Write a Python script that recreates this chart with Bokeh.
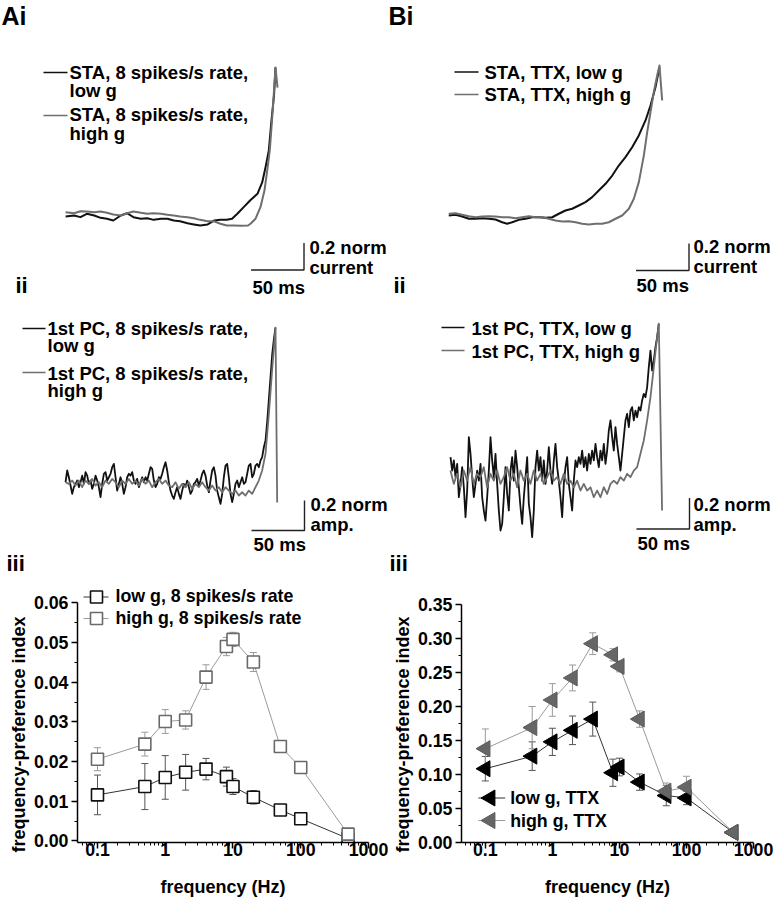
import numpy as np
from bokeh.plotting import figure
from bokeh.models import (Range1d, ColumnDataSource, Whisker, TeeHead, Title,
                          FixedTicker, CustomJSTickFormatter, NumeralTickFormatter)
from bokeh.layouts import column, row
from bokeh.core.properties import value
from bokeh.embed import file_html
from bokeh.resources import INLINE

FONT = "Liberation Sans"
BLACK = "#111111"
GRAY = "#6e6e6e"
TXT = 18.5      # trace-panel text size (px)
PTXT = 17.8     # frequency-panel text size (px)
BASE_FIX = 0.3  # em: lift of alphabetic baseline for text glyphs

# ---------------- data: STA traces (time in ms, normalised current) ----------------
AI_LOW_T = [-198, -190, -184, -178, -171, -165, -159, -153, -146, -140, -134, -127, -121, -115,
            -108, -102, -96, -90, -83, -77, -71, -64, -58, -52, -46, -41, -36, -30, -24, -17,
            -12.5, -9.4, -6.3, -3.8, -1.4, 0]
AI_LOW_V = [0.015, 0.022, 0.010, 0.035, 0.022, 0.005, -0.002, -0.015, 0.022, 0.039, 0.010, -0.002,
            0.002, -0.010, -0.002, -0.002, -0.015, -0.020, -0.035, -0.044, -0.052, -0.044, -0.015,
            -0.010, -0.010, -0.002, 0.035, 0.084, 0.133, 0.183, 0.269, 0.380, 0.504, 0.726, 0.911, 1.119]
AI_HIGH_T = [-198, -190, -184, -178, -171, -165, -159, -153, -146, -140, -134, -127, -121, -115,
             -108, -102, -96, -90, -83, -77, -71, -64, -58, -52, -46, -39, -33, -26, -23.6, -18.9,
             -14.2, -10.4, -7.8, -5.4, -3.3, -1.4, 0, 1.9]
AI_HIGH_V = [0.047, 0.039, 0.054, 0.052, 0.047, 0.052, 0.042, 0.030, 0.022, 0.039, 0.052, 0.042,
             0.035, 0.039, 0.035, 0.027, 0.022, 0.015, 0.010, 0.002, -0.010, -0.020, -0.020, -0.039,
             -0.052, -0.052, -0.054, -0.052, -0.039, -0.002, 0.084, 0.207, 0.356, 0.504, 0.726,
             0.948, 1.119, 0.970]
BI_LOW_T = [-198.8, -192.5, -186.1, -179.9, -173.6, -167.3, -161.0, -154.7, -148.4, -143.7, -139.0,
            -132.7, -126.4, -120.1, -113.9, -107.5, -101.2, -95.0, -88.7, -82.4, -76.1, -69.8,
            -63.5, -57.3, -50.9, -44.6, -38.4, -32.1, -25.8, -19.5, -13.2, -8.5, -3.8, 0]
BI_LOW_V = [0, 0.005, -0.007, -0.024, -0.024, -0.020, -0.024, -0.030, -0.050, -0.061, -0.050,
            -0.032, -0.024, -0.013, -0.013, -0.017, -0.013, 0.013, 0.037, 0.050, 0.074, 0.099,
            0.136, 0.185, 0.235, 0.296, 0.370, 0.432, 0.506, 0.593, 0.704, 0.815, 0.950, 1.099]
BI_HIGH_T = [-198.8, -192.5, -186.1, -179.9, -173.6, -167.3, -161.0, -154.7, -148.4, -142.1, -135.8,
             -129.6, -123.3, -117.0, -110.7, -104.4, -98.1, -91.8, -85.6, -79.2, -72.9, -66.7,
             -60.4, -54.1, -47.8, -41.5, -35.2, -28.9, -24.2, -19.5, -14.8, -11.6, -8.5, -5.4,
             -2.2, 0, 2.5]
BI_HIGH_V = [0.013, 0.017, 0.005, -0.005, -0.013, -0.007, -0.005, -0.007, -0.013, -0.013, -0.020,
             -0.013, -0.005, -0.013, -0.013, -0.024, -0.037, -0.044, -0.042, -0.050, -0.061, -0.067,
             -0.061, -0.061, -0.050, -0.024, 0, 0.050, 0.124, 0.247, 0.444, 0.617, 0.765, 0.913,
             1.037, 1.111, 0.852]

# ---------------- data: 1st PC traces (uniform sampling, last sample time) ----------------
AII_LOW_V = [0, 0.078, 0.033, -0.022, -0.078, -0.033, -0.011, 0.011, -0.033, 0,
             0.044, -0.011, 0.067, 0.044, -0.011, 0.011, -0.044, -0.011, 0.044, 0.011,
             -0.033, -0.1, -0.011, 0.056, 0.067, 0.011, 0.033, 0.056, 0.1, 0.122,
             0.033, -0.056, -0.011, 0.033, -0.011, -0.078, -0.033, 0.033, 0.056, 0.044,
             0.067, 0.011, -0.011, 0.022, -0.033, 0, 0.033, 0, 0.033, 0.011,
             0.056, 0.1, 0.089, 0.011, -0.033, -0.011, 0.033, 0.022, 0.056, 0.1,
             0.133, 0.078, 0, -0.056, -0.089, -0.111, -0.067, -0.033, -0.078, -0.111,
             -0.056, -0.011, -0.033, 0.011, -0.033, -0.078, -0.056, -0.011, 0, 0.022,
             -0.022, 0.011, 0.056, 0.078, 0.044, -0.022, -0.067, 0.011, 0.078, 0.1,
             0.044, -0.056, -0.1, -0.144, -0.078, 0.033, 0.111, 0.122, 0.033, -0.078,
             -0.133, -0.078, -0.011, 0.011, -0.033, 0, 0.033, -0.011, 0, 0.056,
             0.111, 0.122, 0.033, 0.056, 0.111, 0.122, 0.1, 0.144, 0.167, 0.233,
             0.278, 0.40, 0.55, 0.70, 0.85, 0.95, 1.03]
AII_LOW_DT, AII_LOW_TEND = 1.572, 0.0
AII_HIGH_V = [0, -0.011, 0.011, -0.022, 0.011, -0.033, 0.011, -0.011, 0.022, -0.022,
              0, -0.033, 0.011, -0.011, 0.022, 0, -0.033, 0.011, -0.011, 0.022,
              -0.011, 0.011, -0.022, 0.022, -0.011, 0.011, -0.033, 0, 0.022, -0.011,
              0.011, -0.022, -0.033, 0, -0.044, -0.011, -0.033, 0, -0.044, -0.011,
              -0.033, 0, -0.033, -0.056, -0.022, -0.056, -0.033, -0.067, -0.033, -0.056,
              -0.078, -0.056, -0.089, -0.067, -0.089, -0.056, -0.078, -0.033, 0.011, 0.078,
              0.189, 0.45, 0.75, 1.03]
AII_HIGH_DT, AII_HIGH_TEND = 3.145, 0.0
AII_HIGH_TAIL_T = [1.6]
AII_HIGH_TAIL_V = [-0.135]

BII_LOW_V = [0.129, 0.043, 0.108, 0, 0.086, -0.129, -0.043, 0.065, -0.065, -0.258,
             -0.086, 0.258, 0.151, 0, -0.129, -0.043, 0.043, -0.022, 0.086, -0.129,
             -0.215, -0.280, -0.129, 0.043, 0.258, 0.108, 0, 0.151, -0.043, -0.215,
             -0.344, -0.301, -0.129, 0.065, -0.108, -0.215, 0.043, 0.129, -0.022, 0.172,
             0.065, -0.065, -0.194, -0.301, -0.129, 0, 0.129, -0.172, -0.258, -0.387,
             -0.215, 0.065, 0.172, 0.043, 0.129, -0.022, 0.108, -0.043, 0.043, 0.194,
             0.043, -0.043, 0.108, 0.215, 0.065, -0.022, -0.129, -0.258, -0.043, 0.065,
             0.129, -0.043, -0.129, -0.215, -0.022, 0.108, 0.065, 0.129, 0.086, 0.172,
             0.065, 0.129, 0.043, 0.151, 0.086, 0.172, 0.108, 0.215, 0.129, 0.065,
             0.172, 0.108, 0.215, 0.086, 0.172, 0.301, 0.366, 0.258, 0.172, 0.323,
             0.215, 0.129, 0.043, 0.151, 0.258, 0.366, 0.409, 0.323, 0.430, 0.452,
             0.366, 0.430, 0.387, 0.452, 0.430, 0.495, 0.538, 0.516, 0.581, 0.710,
             0.817, 0.688, 0.753, 0.839, 0.903, 0.989]
BII_LOW_DT, BII_LOW_TEND = 1.572, 0.0
BII_HIGH_V = [0.043, -0.043, 0.022, -0.065, 0.043, -0.022, 0.065, -0.043, 0.022, 0,
              0.065, -0.065, 0.022, -0.022, 0.043, -0.043, 0, 0.065, -0.022, 0.022,
              -0.065, 0.043, -0.022, 0.022, -0.043, 0.043, -0.022, 0.022, -0.043, 0,
              0.043, -0.022, 0, -0.043, 0.022, -0.043, -0.022, -0.065, -0.022, -0.086,
              -0.043, -0.086, -0.065, -0.129, -0.086, -0.129, -0.065, -0.108, -0.043, -0.022,
              -0.043, 0, -0.022, 0.022, 0, 0.043, 0.065, 0.151, 0.237, 0.366,
              0.516, 0.710, 0.903]
BII_HIGH_DT, BII_HIGH_TEND = 3.145, -1.57
BII_HIGH_TAIL_T = [0, 3.1]
BII_HIGH_TAIL_V = [0.99, -0.215]

SCALE_MS = 50
SCALE_NORM = 0.2

# ---------------- data: frequency-preference index ----------------
FREQ = [0.1, 0.5, 1, 2, 4, 8, 10, 20, 50, 100, 500]
A_LOW = [0.0116, 0.0137, 0.0160, 0.0173, 0.0181, 0.0162, 0.0137, 0.0110, 0.0078, 0.0056, 0.0006]
A_LOW_ERR = [0.0050, 0.0058, 0.0055, 0.0045, 0.0027, 0.0024, 0.0020, 0.0017, 0.0005, 0.0004, 0.0003]
A_HIGH = [0.0206, 0.0244, 0.0301, 0.0305, 0.0413, 0.0490, 0.0508, 0.0451, 0.0238, 0.0185, 0.0017]
A_HIGH_ERR = [0.0029, 0.0030, 0.0030, 0.0023, 0.0031, 0.0023, 0.0018, 0.0024, 0.0015, 0.0015, 0.0005]
B_LOW = [0.1085, 0.127, 0.148, 0.165, 0.1815, 0.1026, 0.111, 0.0888, 0.069, 0.0656, 0.0148]
B_LOW_ERR = [0.018, 0.021, 0.020, 0.021, 0.025, 0.020, 0.013, 0.012, 0.015, 0.010, 0.002]
B_HIGH = [0.138, 0.169, 0.2096, 0.242, 0.2924, 0.276, 0.259, 0.1815, 0.0754, 0.0814, 0.0148]
B_HIGH_ERR = [0.029, 0.031, 0.024, 0.019, 0.016, 0.009, 0.008, 0.012, 0.012, 0.016, 0.002]

X_TICKS = [0.1, 1, 10, 100, 1000]
A_YTICKS = [0.00, 0.01, 0.02, 0.03, 0.04, 0.05, 0.06]
B_YTICKS = [0.00, 0.05, 0.10, 0.15, 0.20, 0.25, 0.30, 0.35]

# ---------------- layout constants (page pixels) ----------------
W_L, W_R = 388, 385
H1, H2, H3 = 305, 275, 319
LEFT_L, LEFT_R = 0, 388
TOP1, TOP2, TOP3 = 0, 305, 580
AXIS_Y = 842          # page y of the frequency panels' x-axes


def uniform_times(vals, dt, tend):
    n = len(vals)
    return [tend - (n - 1 - i) * dt for i in range(n)]


def trace_fig(left, top, w, h, t0px, v0px, px_ms, px_norm):
    X = lambda rx: (rx - t0px) / px_ms
    Y = lambda ry: (v0px - ry) / px_norm
    p = figure(width=w, height=h, x_range=Range1d(X(left), X(left + w)),
               y_range=Range1d(Y(top + h), Y(top)), x_axis_type=None, y_axis_type=None,
               toolbar_location=None, output_backend="svg", min_border=0,
               outline_line_color=None)
    p.min_border_left = p.min_border_right = p.min_border_top = p.min_border_bottom = 0
    return p, X, Y


def txt(p, X, Y, rx, ry, s, size=TXT):
    p.text(x=[X(rx)], y=[Y(ry - BASE_FIX * size)], text=[s], text_font=value(FONT),
           text_font_style="bold", text_font_size=f"{size}px", text_baseline="alphabetic",
           text_align="left", text_color="black")


def trace(p, t, v, color, width=2.0):
    p.line(t, v, line_color=color, line_width=width, line_join="round")


def scale_bar(p, X, Y, cx, cy, l1, l2, t1, t2, t3):
    x1, y1 = X(cx), Y(cy)
    p.line([x1 - SCALE_MS, x1, x1], [y1, y1, y1 + SCALE_NORM], line_color="#222222", line_width=1.4)
    txt(p, X, Y, t1[0], t1[1], l1)
    txt(p, X, Y, t2[0], t2[1], l2)
    txt(p, X, Y, t3[0], t3[1], "50 ms")


def key(p, X, Y, x0, x1, y, color):
    p.line([X(x0), X(x1)], [Y(y), Y(y)], line_color=color, line_width=1.6)


# ---------- Ai ----------
pAi, X, Y = trace_fig(LEFT_L, TOP1, W_L, H1, 275, 218, 1.06, 135)
trace(pAi, AI_LOW_T, AI_LOW_V, BLACK)
trace(pAi, AI_HIGH_T, AI_HIGH_V, GRAY)
txt(pAi, X, Y, 1, 22.5, "Ai", 25)
key(pAi, X, Y, 43, 67, 72, BLACK)
txt(pAi, X, Y, 69, 77.5, "STA, 8 spikes/s rate,")
txt(pAi, X, Y, 69, 96, "low g")
key(pAi, X, Y, 43, 67, 115, GRAY)
txt(pAi, X, Y, 69, 119.5, "STA, 8 spikes/s rate,")
txt(pAi, X, Y, 69, 138.5, "high g")
scale_bar(pAi, X, Y, 303.5, 269.5, "0.2 norm", "current", (309, 253), (309, 273), (252, 292.5))
txt(pAi, X, Y, 15, 292, "ii", 22)

# ---------- Bi ----------
pBi, X, Y = trace_fig(LEFT_R, TOP1, W_R, H1, 659, 215, 1.06, 135)
trace(pBi, BI_LOW_T, BI_LOW_V, BLACK)
trace(pBi, BI_HIGH_T, BI_HIGH_V, GRAY)
txt(pBi, X, Y, 388, 22.5, "Bi", 25)
key(pBi, X, Y, 454, 478, 71.5, BLACK)
txt(pBi, X, Y, 484, 77.5, "STA, TTX, low g")
key(pBi, X, Y, 454, 478, 94, GRAY)
txt(pBi, X, Y, 484, 99.5, "STA, TTX, high g")
scale_bar(pBi, X, Y, 688.5, 270, "0.2 norm", "current", (693, 252), (693, 272), (636, 290.5))
txt(pBi, X, Y, 393, 292, "ii", 22)

# ---------- Aii ----------
pAii, X, Y = trace_fig(LEFT_L, TOP2, W_L, H2, 275, 481.7, 1.06, 150)
trace(pAii, uniform_times(AII_LOW_V, AII_LOW_DT, AII_LOW_TEND), AII_LOW_V, BLACK, 1.8)
trace(pAii, uniform_times(AII_HIGH_V, AII_HIGH_DT, AII_HIGH_TEND) + AII_HIGH_TAIL_T,
      AII_HIGH_V + AII_HIGH_TAIL_V, GRAY, 1.8)
key(pAii, X, Y, 22, 45, 328, BLACK)
txt(pAii, X, Y, 47, 333.5, "1st PC, 8 spikes/s rate,")
txt(pAii, X, Y, 47, 351, "low g")
key(pAii, X, Y, 22, 45, 372, GRAY)
txt(pAii, X, Y, 47, 378.5, "1st PC, 8 spikes/s rate,")
txt(pAii, X, Y, 47, 396, "high g")
scale_bar(pAii, X, Y, 304, 530, "0.2 norm", "amp.", (310, 509.5), (310, 530), (253, 549.5))
txt(pAii, X, Y, 6, 570, "iii", 22)

# ---------- Bii ----------
pBii, X, Y = trace_fig(LEFT_R, TOP2, W_R, H2, 658.3, 476.7, 1.06, 155)
trace(pBii, uniform_times(BII_LOW_V, BII_LOW_DT, BII_LOW_TEND), BII_LOW_V, BLACK, 1.8)
trace(pBii, uniform_times(BII_HIGH_V, BII_HIGH_DT, BII_HIGH_TEND) + BII_HIGH_TAIL_T,
      BII_HIGH_V + BII_HIGH_TAIL_V, GRAY, 1.8)
key(pBii, X, Y, 441, 464, 327, BLACK)
txt(pBii, X, Y, 471, 333.5, "1st PC, TTX, low g")
key(pBii, X, Y, 441, 464, 350, GRAY)
txt(pBii, X, Y, 471, 357, "1st PC, TTX, high g")
scale_bar(pBii, X, Y, 689, 528.5, "0.2 norm", "amp.", (693, 509.5), (693, 530), (637, 548.5))
txt(pBii, X, Y, 389, 570, "iii", 22)


# ---------- frequency-preference panels ----------
def freq_fig(left, w, axis_x, x_right, x_start, y_start, k, yticks, ystep):
    frame_left = axis_x - left
    frame_right = x_right - left
    frame_h = AXIS_Y - TOP3
    y_end = y_start + frame_h / k
    p = figure(width=w, height=H3, x_axis_type="log",
               x_range=Range1d(x_start, 1000), y_range=Range1d(y_start, y_end),
               toolbar_location=None, output_backend="svg",
               min_border_left=frame_left, min_border_right=w - frame_right,
               min_border_top=0, min_border_bottom=H3 - frame_h,
               outline_line_color=None)
    p.grid.visible = False
    minor_x = [m * 10.0 ** e for e in range(-2, 3) for m in range(2, 10)
               if x_start <= m * 10.0 ** e <= 1000]
    p.xaxis.ticker = FixedTicker(ticks=X_TICKS, minor_ticks=minor_x)
    p.xaxis.formatter = CustomJSTickFormatter(
        code="return tick >= 1 ? tick.toFixed(0) : tick.toFixed(1);")
    p.yaxis.ticker = FixedTicker(ticks=yticks,
                                 minor_ticks=[t + ystep / 2 for t in yticks[:-1]])
    p.yaxis.formatter = NumeralTickFormatter(format="0.00")
    p.xaxis.bounds = (x_start, 1000)
    p.yaxis.bounds = (y_start, yticks[-1])
    for ax in (p.xaxis, p.yaxis):
        ax.axis_line_width = 1.5
        ax.axis_line_color = "black"
        ax.major_tick_line_width = 1.5
        ax.major_tick_in = 0
        ax.major_tick_out = 6
        ax.minor_tick_in = 0
        ax.minor_tick_out = 3
        ax.minor_tick_line_width = 1
        ax.major_label_text_font = FONT
        ax.major_label_text_font_style = "bold"
        ax.major_label_text_font_size = f"{PTXT}px"
        ax.major_label_text_color = "black"
        ax.axis_label_text_font = FONT
        ax.axis_label_text_font_style = "bold"
        ax.axis_label_text_font_size = "18px"
        ax.axis_label_text_color = "black"
    p.xaxis.major_label_standoff = -6
    p.yaxis.major_label_standoff = 3
    p.xaxis.axis_label = "frequency (Hz)"
    p.xaxis.axis_label_standoff = 18
    p.add_layout(Title(text="frequency-preference index", align="left", offset=-10,
                       text_font=FONT, text_font_style="bold", text_font_size="18px",
                       text_color="black", standoff=4), "left")
    PX = lambda rx: 10 ** (np.log10(x_start) + (rx - axis_x) *
                           np.log10(1000 / x_start) / (x_right - axis_x))
    PY = lambda ry: y_start + (AXIS_Y - ry) / k
    return p, PX, PY


def errbars(p, ys, errs, color):
    src = ColumnDataSource(dict(x=FREQ, lo=[y - e for y, e in zip(ys, errs)],
                                up=[y + e for y, e in zip(ys, errs)]))
    p.add_layout(Whisker(source=src, base="x", lower="lo", upper="up",
                         line_color=color, line_width=1,
                         upper_head=TeeHead(size=7, line_color=color, line_width=1),
                         lower_head=TeeHead(size=7, line_color=color, line_width=1)))


def legend_row(p, PX, PY, x0, x1, xm, ym, xt, yb, label, line_color, mk):
    p.line([PX(x0), PX(x1)], [PY(ym), PY(ym)], line_color=line_color, line_width=1)
    p.scatter([PX(xm)], [PY(ym)], **mk)
    txt(p, PX, PY, xt, yb, label, PTXT)


# Aiii
pAiii, PX, PY = freq_fig(LEFT_L, W_L, 77, 368, 0.0507, -0.0004, 238 / 0.06, A_YTICKS, 0.01)
errbars(pAiii, A_LOW, A_LOW_ERR, "#555555")
errbars(pAiii, A_HIGH, A_HIGH_ERR, "#9a9a9a")
MK_A_LOW = dict(marker="square", size=12, fill_color="white", line_color=BLACK, line_width=1.6)
MK_A_HIGH = dict(marker="square", size=12, fill_color="white", line_color="#6a6a6a", line_width=1.6)
pAiii.line(FREQ, A_LOW, line_color="#333333", line_width=1)
pAiii.scatter(FREQ, A_LOW, **MK_A_LOW)
pAiii.line(FREQ, A_HIGH, line_color="#9a9a9a", line_width=1)
pAiii.scatter(FREQ, A_HIGH, **MK_A_HIGH)
legend_row(pAiii, PX, PY, 83, 108, 96, 596.5, 115, 600.5, "low g, 8 spikes/s rate",
           "#333333", MK_A_LOW)
legend_row(pAiii, PX, PY, 83, 108, 96, 618, 115, 622.5, "high g, 8 spikes/s rate",
           "#9a9a9a", MK_A_HIGH)

# Biii
pBiii, PX, PY = freq_fig(LEFT_R, W_R, 459, 753, 0.0441, 0.0, 238 / 0.35, B_YTICKS, 0.05)
errbars(pBiii, B_LOW, B_LOW_ERR, "#555555")
errbars(pBiii, B_HIGH, B_HIGH_ERR, "#9a9a9a")
MK_B_LOW = dict(marker="triangle", angle=np.pi / 2, size=16, fill_color="black",
                line_color="black", line_width=1)
MK_B_HIGH = dict(marker="triangle", angle=np.pi / 2, size=16, fill_color="#666666",
                 line_color="#5a5a5a", line_width=1)
pBiii.line(FREQ, B_LOW, line_color="#333333", line_width=1)
pBiii.scatter(FREQ, B_LOW, **MK_B_LOW)
pBiii.line(FREQ, B_HIGH, line_color="#9a9a9a", line_width=1)
pBiii.scatter(FREQ, B_HIGH, **MK_B_HIGH)
legend_row(pBiii, PX, PY, 476, 503, 488, 797.5, 508, 803, "low g, TTX", "#333333", MK_B_LOW)
legend_row(pBiii, PX, PY, 476, 503, 488, 820, 508, 826, "high g, TTX", "#9a9a9a", MK_B_HIGH)

layout = column(row(pAi, pBi, spacing=0), row(pAii, pBii, spacing=0),
                row(pAiii, pBiii, spacing=0), spacing=0)
open("out.html", "w").write(file_html(layout, INLINE))
